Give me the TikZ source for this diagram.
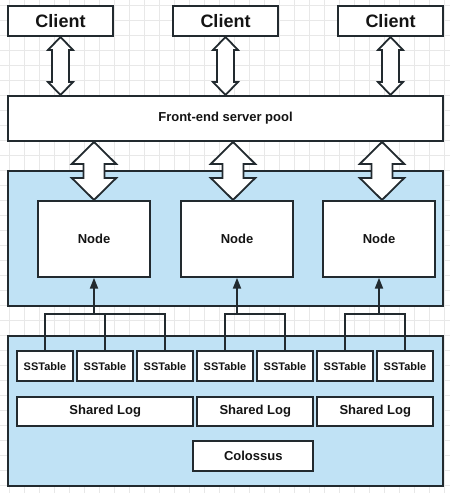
\documentclass[tikz,border=0pt]{standalone}
\usepackage{fontspec}
\setmainfont{Liberation Sans}
\usetikzlibrary{arrows.meta,calc}
\definecolor{lc}{HTML}{222A2F}
\definecolor{bl}{HTML}{C0E2F5}
\definecolor{gr}{HTML}{E8E8E8}
\definecolor{tc}{HTML}{141414}
\newcommand\dblarr[5]{%
  \draw[arrowbody] (#1) -- ++(#3,#5) -- ++({#4-#3},0) -- ($(#2)+(#4,-#5)$) -- ++({#3-#4},0) -- (#2)
    -- ++({-#3},{-#5}) -- ++({#3-#4},0) -- ($(#1)+(-#4,#5)$) -- ++({#4-#3},0) -- cycle;}
\begin{document}
\begin{tikzpicture}[x=1pt,y=-1pt,
  gridline/.style={draw=gr,line width=0.8pt},
  box/.style={draw=lc,line width=2pt,fill=white,inner sep=0pt,text=tc},
  cont/.style={draw=lc,line width=2pt,fill=bl,inner sep=0pt},
  arrowbody/.style={draw=lc,line width=1.8pt,fill=white,line join=miter},
  conn/.style={draw=lc,line width=2pt},
  bigf/.style={font=\fontsize{18}{20}\selectfont\bfseries},
  medf/.style={font=\fontsize{13}{15}\selectfont\bfseries},
  smf/.style={font=\fontsize{11}{13}\selectfont\bfseries}]
\useasboundingbox (0,0) rectangle (450,493);
\fill[white] (0,0) rectangle (450,493);
\foreach \x in {9,24,...,449} \draw[gridline] (\x,0) -- (\x,493);
\foreach \y in {5,20,...,490} \draw[gridline] (0,\y) -- (450,\y);

% clients
\node[box,bigf,minimum width=105pt,minimum height=30pt] (c1) at (60.5,21) {Client};
\node[box,bigf,minimum width=105pt,minimum height=30pt] (c2) at (225.5,21) {Client};
\node[box,bigf,minimum width=105pt,minimum height=30pt] (c3) at (390.5,21) {Client};
% front-end
\node[box,medf,minimum width=435pt,minimum height=45pt] (fe) at (225.5,118.5) {Front-end server pool};
% containers
\node[cont,minimum width=435pt,minimum height=134.7pt] (k1) at (225.5,238.3) {};
\node[cont,minimum width=435pt,minimum height=150pt] (k2) at (225.5,411) {};
% nodes
\node[box,medf,minimum width=112.3pt,minimum height=75.7pt] (n1) at (94,238.8) {Node};
\node[box,medf,minimum width=112.3pt,minimum height=75.7pt] (n2) at (237,238.8) {Node};
\node[box,medf,minimum width=112.3pt,minimum height=75.7pt] (n3) at (379,238.8) {Node};
% sstables
\foreach \i in {1,...,7}
  \node[box,smf,minimum width=56pt,minimum height=30.3pt] (s\i) at ({45+60*(\i-1)},366.2) {SSTable};
% shared logs
\node[box,medf,minimum width=176.3pt,minimum height=29.3pt] (l1) at (105.2,411.3) {Shared Log};
\node[box,medf,minimum width=116pt,minimum height=29.3pt] (l2) at (255.3,411.3) {Shared Log};
\node[box,medf,minimum width=116pt,minimum height=29.3pt] (l3) at (375.3,411.3) {Shared Log};
\node[box,medf,minimum width=120pt,minimum height=29.7pt] (co) at (253.3,456.2) {Colossus};

% small double arrows client <-> front-end
\dblarr{c1.south}{fe.north -| c1.south}{12.5}{8.5}{13}
\dblarr{c2.south}{fe.north -| c2.south}{12.5}{8.5}{13}
\dblarr{c3.south}{fe.north -| c3.south}{12.5}{8.5}{13}
% big double arrows front-end <-> nodes
\coordinate (a1) at (94,0);
\coordinate (a2) at (233,0);
\coordinate (a3) at (382,0);
\dblarr{fe.south -| a1}{n1.north -| a1}{22.3}{10.5}{22}
\dblarr{fe.south -| a2}{n2.north -| a2}{22.3}{10.5}{22}
\dblarr{fe.south -| a3}{n3.north -| a3}{22.3}{10.5}{22}

% connector trees
\coordinate (bar) at (0,313.5);
\draw[conn] (s1.north) |- (bar -| s3.north) -- (s3.north);
\draw[conn] (s2.north) -- (bar -| s2.north);
\draw[conn,-{Triangle[length=11pt,width=8pt]}] (bar -| n1.south) -- (n1.south);
\draw[conn] (s4.north) |- (bar -| s5.north) -- (s5.north);
\draw[conn,-{Triangle[length=11pt,width=8pt]}] (bar -| n2.south) -- (n2.south);
\draw[conn] (s6.north) |- (bar -| s7.north) -- (s7.north);
\draw[conn,-{Triangle[length=11pt,width=8pt]}] (bar -| n3.south) -- (n3.south);
\end{tikzpicture}
\end{document}
